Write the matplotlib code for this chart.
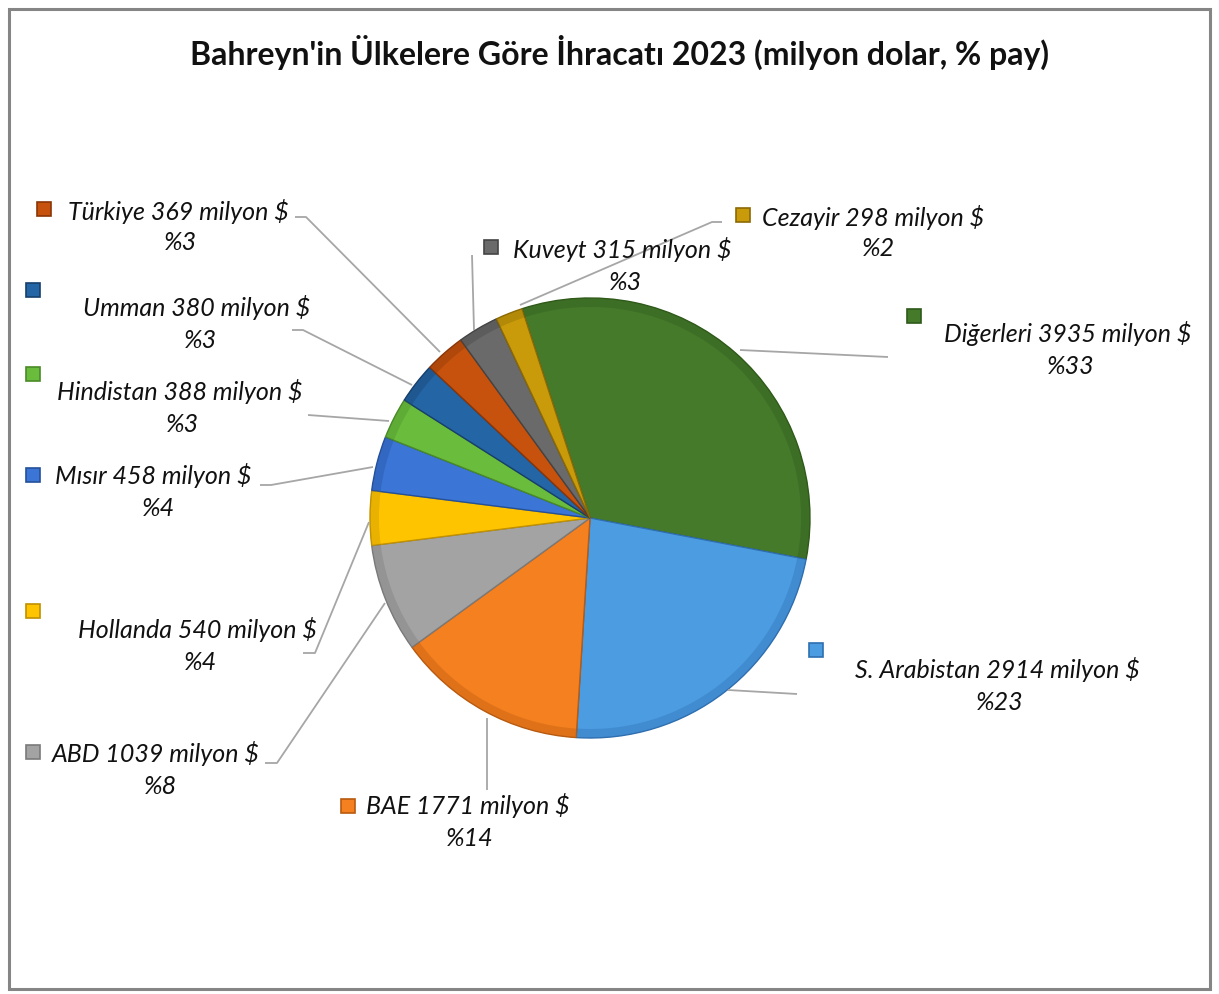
import matplotlib
matplotlib.use('Agg')
import matplotlib.pyplot as plt
from matplotlib.patches import Rectangle, Wedge

# Data
countries = ['Diğerleri', 'S. Arabistan', 'BAE', 'ABD', 'Hollanda', 'Mısır',
             'Hindistan', 'Umman', 'Türkiye', 'Kuveyt', 'Cezayir']
exports_mn = [3935, 2914, 1771, 1039, 540, 458, 388, 380, 369, 315, 298]
share_pct = [33, 23, 14, 8, 4, 4, 3, 3, 3, 3, 2]
colors = ['#467A2B', '#4C9CE2', '#F5801F', '#A3A3A3', '#FFC400', '#3B76D6',
          '#6ABD3C', '#2465A6', '#C7520E', '#6A6A6A', '#C99A0A']
edges = ['#2F5A1A', '#2F6FB0', '#B85A10', '#7A7A7A', '#C09000', '#24509A',
         '#4A8A28', '#173F6C', '#8A3608', '#444444', '#8C6A05']

W, H = 1219, 994
fig = plt.figure(figsize=(W / 100, H / 100), dpi=100)
ax = fig.add_axes([0, 0, 1, 1])

cx, cy, R = 590, H - 518, 220
wedges, _ = ax.pie(share_pct, colors=colors, startangle=108, counterclock=False,
                   center=(cx, cy), radius=R,
                   wedgeprops=dict(linewidth=1.0))
# soft bevel: darker rim along the outside of each slice
for w, e in zip(wedges, edges):
    w.set_edgecolor(e)
    ax.add_patch(Wedge((cx, cy), R, w.theta1, w.theta2, width=9,
                       facecolor=e, edgecolor='none', alpha=0.35))

# label layout: (marker x, marker y, text x, text y, pct x, pct y, leader line points)
layout = {
    'Diğerleri':    (914, 316, 1068, 333, 1071, 366, [(888, 357), (740, 350)]),
    'S. Arabistan': (816, 650, 997, 669, 1000, 703, [(797, 694), (728, 690)]),
    'BAE':          (348, 806, 468, 806, 470, 838, [(487, 790), (487, 718)]),
    'ABD':          (33, 752, 156, 753, 160, 786, [(265, 763), (277, 763), (385, 603)]),
    'Hollanda':     (33, 611, 197, 629, 200, 662, [(303, 653), (315, 653), (369, 522)]),
    'Mısır':        (33, 475, 153, 475, 158, 508, [(260, 485), (271, 485), (373, 467)]),
    'Hindistan':    (33, 374, 180, 391, 182, 424, [(308, 415), (389, 421)]),
    'Umman':        (33, 290, 197, 307, 200, 340, [(292, 330), (303, 330), (412, 385)]),
    'Türkiye':      (44, 209, 178, 212, 180, 243, [(295, 217), (306, 217), (440, 352)]),
    'Kuveyt':       (491, 247, 622, 250, 625, 282, [(472, 255), (474, 330)]),
    'Cezayir':      (743, 215, 873, 217, 878, 249, [(722, 222), (712, 222), (520, 305)]),
}

font = 'Lato'
for name, val, pct, col, ec in zip(countries, exports_mn, share_pct, colors, edges):
    mx, my, tx, ty, px, py, line = layout[name]
    xs = [p[0] for p in line]
    ys = [H - p[1] for p in line]
    ax.plot(xs, ys, color='#A6A6A6', lw=1.3, solid_capstyle='butt')
    ax.add_patch(Rectangle((mx - 7, H - my - 7), 14, 14, facecolor=col,
                           edgecolor=ec, lw=1.2))
    ax.text(tx, H - ty, f'{name} {val} milyon $', ha='center', va='center',
            fontsize=18, style='italic', family=font, color='#111111')
    ax.text(px, H - py, f'%{pct}', ha='center', va='center',
            fontsize=18, style='italic', family=font, color='#111111')

ax.text(620, H - 52, "Bahreyn'in Ülkelere Göre İhracatı 2023 (milyon dolar, % pay)",
        ha='center', va='center', fontsize=23, fontweight='bold', family=font,
        color='#111111')

# chart border
ax.add_patch(Rectangle((9, 5), W - 18, H - 14, fill=False, edgecolor='#858585', lw=2.2))

ax.set_xlim(0, W)
ax.set_ylim(0, H)
ax.set_aspect('auto')
ax.axis('off')

fig.savefig('out.png', dpi=100, facecolor='white')
